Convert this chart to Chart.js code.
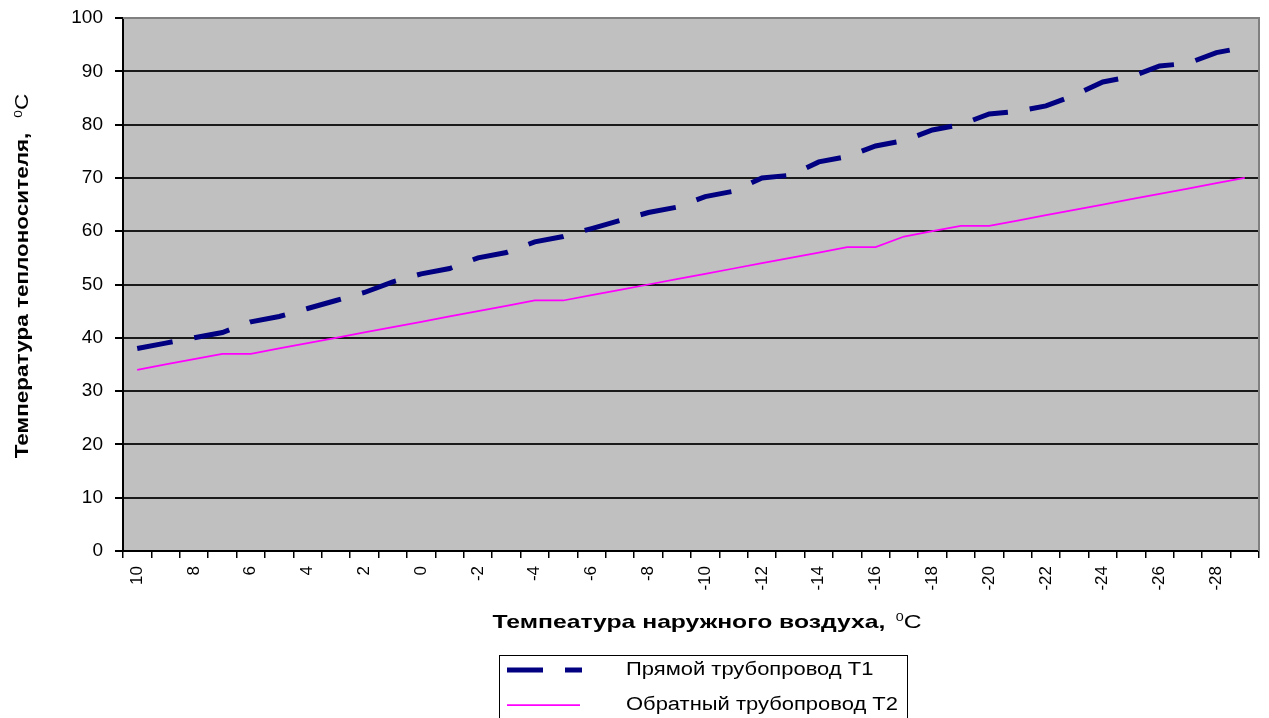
<!DOCTYPE html>
<html>
<head>
<meta charset="utf-8">
<script src="https://cdn.jsdelivr.net/npm/chart.js@4/dist/chart.umd.min.js"></script>
<style>
  html, body { margin: 0; padding: 0; background: #fff; }
  #wrap { width: 1269px; height: 718px; position: relative; }
</style>
</head>
<body>
<div id="wrap"><canvas id="c" width="1269" height="718"></canvas></div>
<script>
const categories = ["10","9","8","7","6","5","4","3","2","1","0","-1","-2","-3","-4","-5","-6","-7","-8","-9","-10",
  "-11","-12","-13","-14","-15","-16","-17","-18","-19","-20","-21","-22","-23","-24","-25","-26","-27","-28","-29"];
const supplyT1 = [38,39,40,41,43,44,45.5,47,48.5,50.5,52,53,55,56,58,59,60.5,62,63.5,64.5,66.5,
  67.5,70,70.5,73,74,76,77,79,80,82,82.5,83.5,85.5,88,89,91,91.5,93.5,94.5];
const returnT2 = [34,35,36,37,37,38,39,40,41,42,43,44,45,46,47,47,48,49,50,51,52,
  53,54,55,56,57,57,59,60,61,61,62,63,64,65,66,67,68,69,70];
const seriesNames = ["Прямой трубопровод Т1", "Обратный трубопровод Т2"];
const yTitle = "Температура теплоносителя,";
const xTitle = "Темпеатура наружного воздуха,";
const unitSup = "0";
const unitC = "С";

const FONT = "'Liberation Sans', Arial, sans-serif";

function drawTitle(ctx, cx, cy, rot, boldText, boldSize, gap, stretch) {
  ctx.save();
  ctx.translate(cx, cy);
  ctx.rotate(rot);
  ctx.scale(stretch, 1);
  ctx.textBaseline = 'alphabetic';
  ctx.fillStyle = '#000';
  const bf = 'bold ' + boldSize + 'px ' + FONT;
  const sf = Math.round(boldSize * 0.6) + 'px ' + FONT;
  const cf = boldSize + 'px ' + FONT;
  ctx.font = bf; const w1 = ctx.measureText(boldText).width;
  ctx.font = sf; const w2 = ctx.measureText(unitSup).width;
  ctx.font = cf; const w3 = ctx.measureText(unitC).width;
  const total = w1 + gap + w2 + w3;
  let x = -total / 2;
  const base = boldSize * 0.36;
  ctx.textAlign = 'left';
  ctx.font = bf; ctx.fillText(boldText, x, base); x += w1 + gap;
  ctx.font = sf; ctx.fillText(unitSup, x, base - boldSize * 0.38); x += w2;
  ctx.font = cf; ctx.fillText(unitC, x, base);
  ctx.restore();
}

const decor = {
  id: 'decor',
  beforeDraw(chart) {
    const {ctx, chartArea: a} = chart;
    ctx.save();
    ctx.fillStyle = '#fff';
    ctx.fillRect(0, 0, chart.width, chart.height);
    ctx.fillStyle = '#C0C0C0';
    ctx.fillRect(a.left, a.top, a.right - a.left, a.bottom - a.top);
    ctx.restore();
  },
  beforeDatasetsDraw(chart) {
    const {ctx, chartArea: a} = chart;
    ctx.save();
    ctx.strokeStyle = '#808080';
    ctx.lineWidth = 2;
    ctx.beginPath();
    ctx.moveTo(a.left, a.top);
    ctx.lineTo(a.right, a.top);
    ctx.lineTo(a.right, a.bottom);
    ctx.stroke();
    ctx.restore();
  },
  afterDraw(chart) {
    const {ctx} = chart;
    drawTitle(ctx, 22, 276, -Math.PI / 2, yTitle, 18, 12, 1.25);
    drawTitle(ctx, 707, 621, 0, xTitle, 19, 8, 1.3);
    // legend
    ctx.save();
    ctx.strokeStyle = '#000';
    ctx.lineWidth = 1;
    ctx.strokeRect(499.5, 655.5, 408, 80);
    const ds = chart.data.datasets;
    const rows = [670, 705];
    ds.forEach((d, i) => {
      ctx.save();
      ctx.strokeStyle = d.borderColor;
      ctx.lineWidth = d.borderWidth;
      ctx.setLineDash(d.borderDash || []);
      ctx.lineCap = 'butt';
      ctx.beginPath();
      ctx.moveTo(507, rows[i]);
      ctx.lineTo(i === 0 ? 582 : 580, rows[i]);
      ctx.stroke();
      ctx.restore();
      ctx.save();
      ctx.translate(626, rows[i]);
      ctx.scale(1.22, 1);
      ctx.fillStyle = '#000';
      ctx.font = '18px ' + FONT;
      ctx.textAlign = 'left';
      ctx.textBaseline = 'middle';
      ctx.fillText(d.label, 0, 0);
      ctx.restore();
    });
    ctx.restore();
  }
};

new Chart(document.getElementById('c'), {
  type: 'line',
  data: {
    labels: categories,
    datasets: [
      {
        label: seriesNames[0],
        data: supplyT1,
        borderColor: '#000080',
        borderWidth: 5,
        borderDash: [36, 22],
        borderCapStyle: 'butt',
        pointRadius: 0,
        tension: 0,
        fill: false
      },
      {
        label: seriesNames[1],
        data: returnT2,
        borderColor: '#FF00FF',
        borderWidth: 1.75,
        pointRadius: 0,
        tension: 0,
        fill: false
      }
    ]
  },
  options: {
    responsive: false,
    animation: false,
    layout: { padding: { top: 18, right: 10, bottom: 0, left: 0 } },
    plugins: {
      legend: { display: false },
      tooltip: { enabled: false }
    },
    scales: {
      x: {
        type: 'category',
        offset: true,
        afterFit(scale) {
          scale.height = 167;
          scale.paddingLeft = 0;
          scale.paddingRight = 0;
        },
        grid: {
          offset: true,
          drawOnChartArea: false,
          drawTicks: true,
          tickLength: 7,
          color: '#000',
          lineWidth: 1.5
        },
        border: { color: '#000', width: 2 },
        ticks: {
          autoSkip: false,
          minRotation: 90,
          maxRotation: 90,
          padding: 8,
          color: '#000',
          font: { family: FONT, size: 17 },
          callback(value, index) { return index % 2 === 0 ? categories[index] : ''; }
        }
      },
      y: {
        min: 0,
        max: 100,
        afterFit(scale) {
          scale.width = 123;
          scale.paddingTop = 0;
          scale.paddingBottom = 0;
        },
        grid: {
          color: (c) => c.tick && c.tick.value === 100 ? 'rgba(0,0,0,0)' : '#1a1a1a',
          lineWidth: 2,
          drawTicks: true,
          tickLength: 8,
          tickColor: '#000'
        },
        border: { color: '#000', width: 2 },
        ticks: {
          stepSize: 10,
          padding: 12,
          color: '#000',
          font: { family: FONT, size: 19 }
        }
      }
    }
  },
  plugins: [decor]
});
</script>
</body>
</html>
